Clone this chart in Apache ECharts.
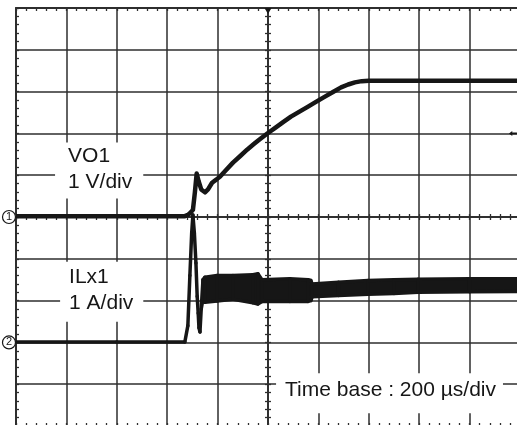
<!DOCTYPE html>
<html>
<head>
<meta charset="utf-8">
<script src="https://cdn.jsdelivr.net/npm/echarts@6/dist/echarts.min.js"></script>
<style>
  html, body { margin: 0; padding: 0; background: #fff; }
  #chart { width: 517px; height: 425px; }
</style>
</head>
<body>
<div id="chart"></div>
<script>
// time axis in µs (200 µs/div), vertical axis in divisions
const vo1Time = [-1000, -600, -330, -318, -308, -298, -290, -283, -275, -265, -250, -238, -222, -204, -190, -170, -139, -110, -83, -55, -30, 0, 30, 60, 91, 125, 159, 192, 226, 258, 290, 318, 345, 372, 400, 600, 800, 1000];
const vo1Volts = [0.02, 0.02, 0.02, 0.05, 0.1, 0.17, 0.6, 1.04, 0.85, 0.66, 0.59, 0.66, 0.82, 0.9, 0.97, 1.1, 1.3, 1.46, 1.61, 1.75, 1.87, 2.01, 2.14, 2.27, 2.4, 2.52, 2.64, 2.76, 2.88, 2.99, 3.1, 3.17, 3.22, 3.25, 3.26, 3.26, 3.26, 3.26];

// inductor current: lower / upper edge of the trace (ringing band after the step)
const ilTime = [-1000, -600, -330, -318, -310, -303, -298, -292, -286, -281, -277, -274, -270, -265, -258, -250, -202, -139, -60, -40, -24, 87, 159, 170, 175, 280, 397, 500, 595, 800, 1000];
const ilLow  = [0.01, 0.01, 0.01, 0.4, 1.6, 2.6, 3.05, 2.6, 1.9, 1.1, 0.7, 0.35, 0.25, 0.8, 1.04, 0.96, 0.99, 1.03, 0.95, 0.92, 0.98, 0.98, 0.98, 1.0, 1.09, 1.12, 1.15, 1.17, 1.2, 1.21, 1.22];
const ilHigh = [0.01, 0.01, 0.01, 0.4, 1.6, 2.6, 3.05, 2.6, 1.9, 1.1, 0.7, 0.35, 0.25, 0.8, 1.5, 1.56, 1.6, 1.6, 1.62, 1.64, 1.5, 1.52, 1.5, 1.48, 1.4, 1.44, 1.48, 1.5, 1.51, 1.52, 1.52];

const channelNames = ['VO1', 'ILx1'];
const channelScales = ['1 V/div', '1 A/div'];
const channelOffsets = [0, -3];
const triggerLevel = 2;
const timeBaseText = 'Time base : 200 µs/div';

const ink = '#161616';
const gridColor = '#2e2e2e';
const font = '"Liberation Sans", Arial, Helvetica, sans-serif';

const chart = echarts.init(document.getElementById('chart'));

const tickLine = { color: gridColor, width: 1.3 };

// builds one axis of the scope graticule
function makeAxis(range, opts) {
    return {
        type: 'value',
        min: range[0],
        max: range[1],
        interval: range[2],
        position: opts.position,
        axisLine: {
            show: true,
            onZero: !!opts.center,
            onZeroAxisIndex: opts.center ? 0 : undefined,
            lineStyle: { color: gridColor, width: opts.center ? 1.5 : 2 }
        },
        axisTick: { show: true, inside: !!opts.inside, length: 3, lineStyle: tickLine },
        minorTick: { show: true, splitNumber: 5, length: 3, lineStyle: tickLine },
        axisLabel: { show: false },
        splitLine: { show: !!opts.split, lineStyle: { color: gridColor, width: 1.5 } },
        minorSplitLine: { show: false }
    };
}

const xRange = [-1000, 1000, 200];
const yRange = [-5, 5, 1];

const vo1Data = vo1Time.map((t, i) => [t, vo1Volts[i] + channelOffsets[0]]);

// one quad per segment of the current trace: [t0, lo0, hi0, t1, lo1, hi1]
const ilSegments = [];
for (let i = 0; i < ilTime.length - 1; i++) {
    const off = channelOffsets[1];
    ilSegments.push([
        ilTime[i], ilLow[i] + off, ilHigh[i] + off,
        ilTime[i + 1], ilLow[i + 1] + off, ilHigh[i + 1] + off
    ]);
}

function channelMarker(idx) {
    return {
        coord: [xRange[0], channelOffsets[idx]],
        symbol: 'circle',
        symbolSize: 13,
        symbolOffset: [-7, 0],
        itemStyle: { color: '#fff', borderColor: ink, borderWidth: 1.2 },
        label: { show: true, position: 'inside', formatter: String(idx + 1), color: ink, fontSize: 11, fontFamily: font }
    };
}

const option = {
    animation: false,
    backgroundColor: '#fff',
    grid: { left: 16, top: 8, width: 504, height: 418, outerBoundsMode: 'none', containLabel: false },
    xAxis: [
        makeAxis(xRange, { position: 'bottom', inside: true, split: true }),
        makeAxis(xRange, { position: 'top', inside: true }),
        makeAxis(xRange, { position: 'top', center: true }),
        makeAxis(xRange, { position: 'bottom', center: true })
    ],
    yAxis: [
        makeAxis(yRange, { position: 'left', inside: true, split: true }),
        makeAxis(yRange, { position: 'left', center: true }),
        makeAxis(yRange, { position: 'right', center: true })
    ],
    series: [
        {
            name: channelNames[0],
            type: 'line',
            data: vo1Data,
            symbol: 'none',
            lineStyle: { color: ink, width: 4.5, join: 'round' },
            z: 3,
            markPoint: {
                silent: true,
                data: [
                    channelMarker(0),
                    {
                        coord: [0, yRange[1]],
                        symbol: 'triangle',
                        symbolRotate: 180,
                        symbolSize: [7, 6],
                        symbolOffset: [0, 3],
                        itemStyle: { color: ink },
                        label: { show: false }
                    },
                    {
                        coord: [972, triggerLevel + channelOffsets[0]],
                        symbol: 'path://M0,3 L5,0 L5,2 L12,2 L12,4 L5,4 L5,6 Z',
                        symbolSize: [8, 5],
                        itemStyle: { color: ink },
                        label: { show: false }
                    }
                ]
            }
        },
        {
            name: channelNames[1],
            type: 'custom',
            data: ilSegments,
            encode: { x: [0, 3], y: [1, 2, 4, 5] },
            clip: true,
            z: 3,
            renderItem: function (params, api) {
                const a = api.coord([api.value(0), api.value(1)]);
                const b = api.coord([api.value(3), api.value(4)]);
                const c = api.coord([api.value(3), api.value(5)]);
                const d = api.coord([api.value(0), api.value(2)]);
                return {
                    type: 'polygon',
                    shape: { points: [a, b, c, d] },
                    style: { fill: ink, stroke: ink, lineWidth: 3.5, lineJoin: 'round' }
                };
            }
        },
        {
            // carries the channel 2 ground marker
            name: channelNames[1] + ' marker',
            type: 'line',
            data: [],
            symbol: 'none',
            markPoint: { silent: true, data: [channelMarker(1)] }
        }
    ]
};

chart.setOption(option);

// text boxes with white backgrounds that cut the graticule
function note(t, y, text, padding) {
    const p = chart.convertToPixel({ gridIndex: 0 }, [t, y]);
    return {
        type: 'text',
        x: p[0],
        y: p[1],
        z: 10,
        silent: true,
        style: {
            text: text,
            fontSize: 21,
            fontFamily: font,
            fill: ink,
            lineHeight: 26,
            backgroundColor: '#fff',
            padding: padding
        }
    };
}

chart.setOption({
    graphic: [
        note(-845, 1.78, channelNames[0] + '\n' + channelScales[0], [1, 11, 3, 13]),
        note(-825, -1.07, channelNames[1] + '\n' + channelScales[1], [2, 10, 6, 9]),
        note(32, -3.74, timeBaseText, [4, 7, 10, 9])
    ]
});
</script>
</body>
</html>
